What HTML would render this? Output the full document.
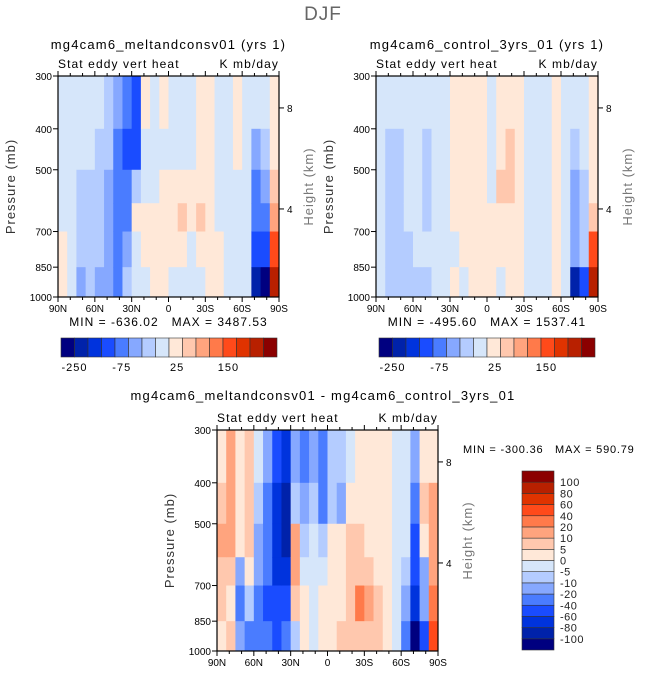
<!DOCTYPE html>
<html><head><meta charset="utf-8"><style>
html,body{margin:0;padding:0;background:#fff;}
svg{display:block;font-family:"Liberation Sans","DejaVu Sans",sans-serif;}
text{white-space:pre;}
</style></head><body>
<svg id="fig" width="646" height="676" viewBox="0 0 646 676" xmlns="http://www.w3.org/2000/svg" xml:space="preserve">
<text x="323" y="20" font-size="19" fill="#666" text-anchor="middle" letter-spacing="1">DJF</text>
</svg>
<script>
// ---- data ----
const palette = ["#000080","#0022aa","#0033dd","#1a4cff","#4a7cff","#86a8ff","#b4ccff","#d6e6fa","#ffe8d8","#ffc8ae","#ffa47e","#ff7a4a","#ff4a1a","#e03300","#b82000","#8b0000"];
const latCenters = [86.25,78.75,71.25,63.75,56.25,48.75,41.25,33.75,26.25,18.75,11.25,3.75,-3.75,-11.25,-18.75,-26.25,-33.75,-41.25,-48.75,-56.25,-63.75,-71.25,-78.75,-86.25];
const levelEdges = [300,400,500,600,700,850,1000];
const xTickLabels = ["90N","60N","30N","0","30S","60S","90S"];
const xTickLats = [90,60,30,0,-30,-60,-90];
const yTickLabels = ["300","400","500","700","850","1000"];
const yTickValues = [300,400,500,700,850,1000];
const heightTicks = [8,4];
const heightTickPressure = [357,619];
const topBarLabels = ["-250","-75","25","150"];
const topBarLabelIdx = [1,4.5,8.6,12.4];
const diffBarLabels = ["100","80","60","40","20","10","5","0","-5","-10","-20","-40","-60","-80","-100"];
// color indices per latitude column (rows: 300-400,400-500,500-600,600-700,700-850,850-1000)
const melt = [[7,7,7,7,8,8],[7,7,7,7,7,7],[7,7,6,6,6,5],[7,7,6,6,6,6],[7,6,6,6,6,5],[6,6,5,5,5,5],[5,4,4,4,4,4],[4,3,4,4,5,6],[3,3,6,8,7,7],[8,7,7,8,8,7],[7,7,7,8,8,8],[8,7,8,8,8,8],[7,7,8,8,8,7],[7,7,8,9,8,7],[7,7,8,8,7,7],[8,8,8,9,8,7],[8,8,8,8,8,8],[7,7,7,7,8,8],[7,7,7,7,7,7],[8,8,7,7,7,7],[7,7,7,7,7,7],[7,5,4,4,3,1],[7,6,5,4,3,0],[8,8,9,10,12,14]];
const ctrl = [[7,7,7,7,7,7],[7,6,6,6,6,6],[7,6,6,6,6,6],[7,7,7,7,6,6],[7,7,7,7,7,6],[7,6,6,6,7,6],[7,7,7,7,7,7],[7,7,7,7,7,7],[8,8,8,8,7,8],[8,8,8,8,8,7],[8,8,8,8,8,8],[8,8,8,8,8,8],[7,7,7,8,8,8],[8,8,9,8,8,7],[8,9,9,8,8,8],[8,8,8,8,8,8],[7,7,7,7,7,7],[7,7,7,7,7,7],[7,7,7,7,7,7],[8,8,8,8,8,8],[7,7,7,7,7,7],[7,6,5,5,5,1],[7,7,6,6,6,3],[8,8,8,9,12,14]];
const diff = [[8,9,10,9,9,8],[10,10,10,9,8,9],[8,8,8,5,4,5],[9,9,9,8,6,4],[7,6,5,5,4,4],[5,4,4,4,3,4],[3,2,2,2,3,3],[2,1,1,2,3,4],[5,6,10,10,9,6],[4,5,6,7,8,8],[5,6,7,7,7,7],[4,4,6,7,8,8],[6,6,8,8,8,8],[6,5,8,8,8,9],[7,8,9,9,9,9],[8,8,9,9,11,9],[8,8,8,9,10,9],[8,8,8,8,9,9],[8,8,8,8,8,8],[7,7,7,7,7,7],[7,7,7,6,5,4],[5,4,3,3,2,0],[8,9,8,5,5,3],[8,10,10,10,11,12]];

const NS="http://www.w3.org/2000/svg";
const svg=document.getElementById('fig');
function mk(tag,attrs,parent){const e=document.createElementNS(NS,tag);for(const k in attrs)e.setAttribute(k,attrs[k]);(parent||svg).appendChild(e);return e;}
function txt(x,y,s,size,anchor,parent,fill,ls){const t=mk('text',{x:x,y:y,'font-size':size,'text-anchor':anchor||'start',fill:fill||'#000','letter-spacing':ls||0},parent);t.textContent=s;return t;}

function panel(name,x0,y0,w,h,data,title,minmax){
  const g=mk('g',{});
  
  
  const xs=lat=>x0+(90-lat)/180*w;
  const ys=p=>y0+Math.log(p/300)/Math.log(1000/300)*h;
  const cw=w/latCenters.length;
  data.forEach((col,i)=>{
    col.forEach((v,j)=>{
      const ya=ys(levelEdges[j]),yb=ys(levelEdges[j+1]);
      const r=mk('rect',{x:(xs(latCenters[i])-cw/2).toFixed(2),y:ya.toFixed(2),width:(cw+0.4).toFixed(2),height:(yb-ya+0.4).toFixed(2),fill:palette[v]},g);
      
      
    });
  });
  mk('rect',{x:x0,y:y0,width:w,height:h,fill:'none',stroke:'#000','stroke-width':1.2},g);
  for(let lat=90;lat>=-90;lat-=10){
    const major=lat%30===0;const L=major?5:3;
    mk('line',{x1:xs(lat),x2:xs(lat),y1:y0+h,y2:y0+h+L,stroke:'#000'},g);
    mk('line',{x1:xs(lat),x2:xs(lat),y1:y0,y2:y0-L,stroke:'#000'},g);
  }
  xTickLats.forEach((lat,i)=>{const t=txt(xs(lat),y0+h+15,xTickLabels[i],10,'middle',g);
    
    });
  yTickValues.forEach((p,i)=>{
    mk('line',{x1:x0-5,x2:x0,y1:ys(p),y2:ys(p),stroke:'#000'},g);
    const t=txt(x0-6,ys(p)+4,yTickLabels[i],10,'end',g);
    
    
  });
  heightTicks.forEach((km,i)=>{
    const y=ys(heightTickPressure[i]);
    mk('line',{x1:x0+w,x2:x0+w+5,y1:y,y2:y,stroke:'#000'},g);
    txt(x0+w+8,y+4,String(km),10,'start',g);
  });
  const yl=txt(0,0,'Pressure (mb)',13,'middle',g,'#333',1);
  yl.setAttribute('transform',`translate(${x0-43},${y0+h/2}) rotate(-90)`);
  
  
  const hl=txt(0,0,'Height (km)',13,'middle',g,'#777',1);
  hl.setAttribute('transform',`translate(${x0+w+34},${y0+h/2}) rotate(-90)`);
  
  
  const st=txt(x0,y0-8,'Stat eddy vert heat',12,'start',g,'#000',1.1);
  
  
  txt(x0+w,y0-8,'K mb/day',12,'end',g,'#000',1.1);
  if(title){const tt=txt(x0+w/2,y0-27,title,13,'middle',g,'#000',1.2);
    
    }
  if(minmax){const m=txt(x0+w/2,y0+h+29,minmax,12,'middle',g,'#000',1);
    
    }
}
function hbar(name,x0,y0,w,h){
  const g=mk('g',{});
  
  
  const bw=w/palette.length;
  palette.forEach((c,i)=>{const r=mk('rect',{x:x0+i*bw,y:y0,width:bw,height:h,fill:c,stroke:'#333','stroke-width':0.6},g);
    
    });
  topBarLabels.forEach((s,i)=>{const t=txt(x0+topBarLabelIdx[i]*bw,y0+h+14,s,11,'middle',g,'#000',1);
    
    });
}
function vbar(name,x0,y0,w,h){
  const g=mk('g',{});
  
  
  const bh=h/palette.length;
  palette.forEach((c,i)=>{const r=mk('rect',{x:x0,y:y0+(palette.length-1-i)*bh,width:w,height:bh,fill:c,stroke:'#333','stroke-width':0.6},g);
    
    });
  diffBarLabels.forEach((s,i)=>{const t=txt(x0+w+6,y0+(i+1)*bh+4,s,11,'start',g,'#222',0.5);
    
    });
}
panel('panel-meltandconsv',58,76,221,221,melt,'mg4cam6_meltandconsv01 (yrs 1)','MIN = -636.02   MAX = 3487.53');
panel('panel-control',376,76,222,221,ctrl,'mg4cam6_control_3yrs_01 (yrs 1)','MIN = -495.60   MAX = 1537.41');
hbar('colorbar-left',61,338,216,19);
hbar('colorbar-right',379,338,216,19);
panel('panel-difference',217,430,221,221,diff,'','');
const dt=txt(323,400,'mg4cam6_meltandconsv01 - mg4cam6_control_3yrs_01',13,'middle','', '#000',1.2);


const mm=txt(463,453,'MIN = -300.36   MAX = 590.79',11,'start','', '#000',0.8);


vbar('colorbar-difference',522,471,32,179);
</script>
</body></html>
